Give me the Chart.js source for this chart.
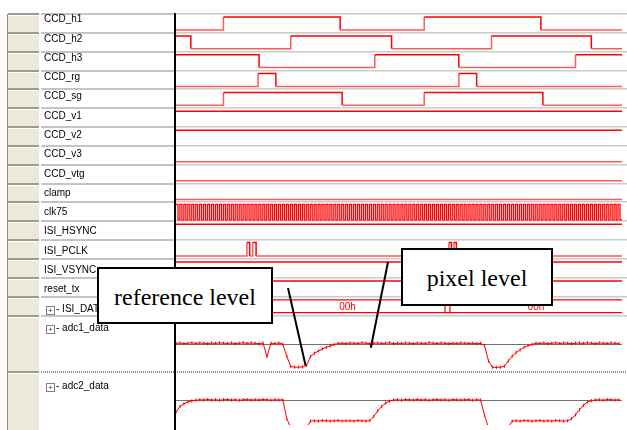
<!DOCTYPE html>
<html>
<head>
<meta charset="utf-8">
<script src="https://cdn.jsdelivr.net/npm/chart.js@4.4.0/dist/chart.umd.min.js"></script>
<style>
body { margin: 0; background: #fff; }
#wrap { position: relative; width: 627px; height: 430px; overflow: hidden; font-family: "Liberation Sans", Arial, sans-serif; }
#wave { position: absolute; left: 0; top: 0; }
.lbl { position: absolute; left: 44px; font-size: 10px; line-height: 12px; color: #000; white-space: nowrap; }
.plus { display: inline-block; width: 7px; height: 7px; border: 1px solid #7f7f7f; font-size: 8px; line-height: 7px; text-align: center; margin: 0 1px 0 1px; vertical-align: -1px; color: #333; }
.note { position: absolute; background: #fff; border: 2px solid #000; box-sizing: border-box; font-family: "Liberation Serif", "Times New Roman", serif; font-size: 24px; display: flex; align-items: center; justify-content: center; padding-top: 3px; }
</style>
</head>
<body>
<div id="wrap">
  <canvas id="wave" width="627" height="430"></canvas>
  <div id="labels"></div>
  <div class="note" style="left:97px;top:267px;width:176px;height:57px;">reference level</div>
  <div class="note" style="left:401px;top:248px;width:152px;height:58px;">pixel level</div>
</div>
<script>
// time axis in screen-ish units, 0 = left edge of wave window
var T_END = 451;

var signalNames = ['CCD_h1', 'CCD_h2', 'CCD_h3', 'CCD_rg', 'CCD_sg', 'CCD_v1', 'CCD_v2', 'CCD_v3',
  'CCD_vtg', 'clamp', 'clk75', 'ISI_HSYNC', 'ISI_PCLK', 'ISI_VSYNC', 'reset_tx', 'ISI_DATA',
  'adc1_data', 'adc2_data'];

// digital signals: [time, level] edges
var ccdH1 = [[0,0],[48,1],[166,0],[251,1],[369,0]];
var ccdH2 = [[0,1],[15,0],[116,1],[218,0],[319,1],[420,0]];
var ccdH3 = [[0,1],[84,0],[201,1],[286,0],[404,1]];
var ccdRg = [[0,0],[83,1],[101,0],[286,1],[304,0]];
var ccdSg = [[0,0],[48,1],[168,0],[251,1],[371,0]];
var ccdV1 = [[0,1]];
var ccdV2 = [[0,1]];
var ccdV3 = [[0,0]];
var ccdVtg = [[0,0]];
var clamp = [[0,0]];
var isiHsync = [[0,1]];
var isiPclk = [[0,0],[71.7,1],[74.5,0],[77.5,1],[81,0],[276,1],[278.5,0],[281,1],[283.5,0]];
var isiVsync = [[0,1]];
var resetTx = [[0,1]];

// clk75 levels, one per half period
var clk75 =
  '10101010101010101010101010101010101010101010101010' +
  '10101010101010101010101010101010101010101010101010' +
  '10101010101010101010101010101010101010101010101010' +
  '10101010101010101010101010101010101010101010101010' +
  '10101010101010101010101010';

// ISI_DATA bus: edges and values of segments
var isiDataEdges = [70, 75, 272, 277];
var isiDataSegments = [[0, 70, '00h'], [75, 272, '00h'], [277, 451, '00h']];

// adc samples (codes 0..255), one every adcStep time units
var adcStep = 4;
var adcRefCode = 127;
var adc1Data = [
  129,131,128,130,132,129,131,130,128,131,129,132,130,129,131,128,130,132,129,131,130,128,131,
  70,
  130,129,131,
  126,72,25,22,22,23,30,70,85,95,104,112,118,124,
  129,130,128,131,130,129,132,130,128,130,131,129,130,132,128,130,129,131,130,128,
  131,130,129,132,130,129,131,130,128,130,129,131,130,129,130,128,130,
  120,50,22,21,22,26,50,72,88,100,112,119,125,
  130,129,131,128,130,132,129,131,130,128,130,131,129,132,130,128,131,130,129,131,130,129
];
var adc2Data = [
  74,100,112,120,125,
  128,130,129,131,129,130,128,130,131,129,130,128,130,131,129,130,129,131,130,128,130,129,130,
  45,5,5,5,5,5,34,
  35,34,36,35,34,35,36,34,35,35,34,36,35,34,36,
  55,80,100,115,124,
  129,130,128,131,130,129,131,129,130,128,130,131,129,130,128,131,130,129,130,131,128,130,129,
  60,5,5,5,5,5,5,34,
  35,34,36,35,34,35,36,34,35,34,36,35,34,35,
  45,62,85,105,120,126,
  129,130,128,131,130,129,130
];

// callout tips (time, adc1 code)
var refTip = { t: 131, code: 30 };
var pixTip = { t: 197, code: 110 };

// ---------- layout ----------
var ROW_TOP0 = 9.3;
var ROW_H = 19.29;
var Y_MIN = -ROW_TOP0 / ROW_H;
var Y_MAX = Y_MIN + 430 / ROW_H;
var HI = 0.16, LO = 0.84;
var RED = '#ff0000', PINK = '#ff5a5a';

function digital(edges, row, hi, lo) {
  var pts = edges.map(function (e) { return { x: e[0], y: row + (e[1] ? hi : lo) }; });
  pts.push({ x: T_END, y: pts[pts.length - 1].y });
  return pts;
}

function adcPoints(codes, bottomRow) {
  return codes.map(function (c, i) { return { x: i * adcStep, y: bottomRow - c * 3 / 255 }; });
}

var clkEdges = clk75.split('').map(function (c, i) { return [i * T_END / clk75.length, +c]; });

var digitalRows = [ccdH1, ccdH2, ccdH3, ccdRg, ccdSg, ccdV1, ccdV2, ccdV3, ccdVtg, clamp,
  clkEdges, isiHsync, isiPclk, isiVsync, resetTx];

var datasets = digitalRows.map(function (edges, row) {
  var hi = HI, lo = LO;
  var isClk = row == 10;
  if (isClk) { hi = 0.1; lo = 0.92; }
  if (row == 12) { hi = 0.12; }
  return {
    label: signalNames[row],
    data: digital(edges, row, hi, lo),
    stepped: true,
    borderWidth: isClk ? 1.3 : 1.5,
    borderColor: RED,
    segment: {
      borderColor: function (ctx) { return (!isClk && (ctx.p0.parsed.y % 1) > 0.5) ? PINK : RED; }
    }
  };
});

// bus lines
var busTop = 15 + 0.17, busBot = 15 + 0.85;
var busTrans = [];
isiDataEdges.forEach(function (t) {
  busTrans.push({ x: t, y: busTop }, { x: t, y: busBot }, { x: t + 0.01, y: null });
});
datasets.push({ label: 'ISI_DATA', data: [{ x: 0, y: busTop }, { x: T_END, y: busTop }], borderColor: RED, borderWidth: 1.2 });
datasets.push({ label: 'ISI_DATA', data: [{ x: 0, y: busBot }, { x: T_END, y: busBot }], borderColor: RED, borderWidth: 1.2 });
datasets.push({ label: 'ISI_DATA', data: busTrans, borderColor: RED, borderWidth: 1.2, spanGaps: false });

datasets.push({
  label: 'adc1_data', data: adcPoints(adc1Data, 19), borderColor: RED, borderWidth: 1,
  pointStyle: 'line', pointRotation: 90, pointRadius: 1.6, pointBorderWidth: 1, pointBorderColor: RED
});
datasets.push({
  label: 'adc2_data', data: adcPoints(adc2Data, 22), borderColor: RED, borderWidth: 1,
  pointStyle: 'line', pointRotation: 90, pointRadius: 1.6, pointBorderWidth: 1, pointBorderColor: RED
});

var rowBounds = [0,1,2,3,4,5,6,7,8,9,10,11,12,13,14,15,16,19];

var bgPlugin = {
  id: 'bg',
  beforeDraw: function (chart) {
    var ctx = chart.ctx, ys = chart.scales.y, xs = chart.scales.x;
    ctx.save();
    ctx.fillStyle = '#fff';
    ctx.fillRect(0, 0, 627, 430);
    var top = ys.getPixelForValue(0);
    ctx.fillStyle = '#ece9d8';
    ctx.fillRect(8, top, 31, 430);
    ctx.fillStyle = '#8e8c80';
    ctx.fillRect(7, top, 1, 430);
    rowBounds.forEach(function (b) {
      var py = Math.round(ys.getPixelForValue(b));
      ctx.fillStyle = '#9d9b8f';
      ctx.fillRect(8, py - 1, 31, 2);
      ctx.fillStyle = '#fff';
      ctx.fillRect(8, py + 1, 31, 1);
      if (b == 19) {
        ctx.strokeStyle = '#8a8a8a';
        ctx.lineWidth = 2;
        ctx.setLineDash([1, 1]);
        ctx.beginPath();
        ctx.moveTo(41, py);
        ctx.lineTo(627, py);
        ctx.stroke();
        ctx.setLineDash([]);
      } else {
        ctx.fillStyle = '#c4c4c4';
        ctx.fillRect(41, py - 1, 133, 2);
        ctx.fillStyle = '#cbcbcb';
        ctx.fillRect(176, py - 1, 451, 1.5);
      }
    });
    // reference lines of the adc rows
    ctx.fillStyle = '#707070';
    [19 - adcRefCode * 3 / 255, 22 - adcRefCode * 3 / 255].forEach(function (v) {
      var py = Math.round(ys.getPixelForValue(v));
      ctx.fillRect(xs.left, py, xs.right - xs.left, 1);
    });
    ctx.fillStyle = '#000';
    ctx.fillRect(174, top - 1, 2, 430);
    ctx.restore();
  },
  afterDatasetsDraw: function (chart) {
    var ctx = chart.ctx, ys = chart.scales.y, xs = chart.scales.x;
    ctx.save();
    ctx.fillStyle = RED;
    ctx.font = '10px "Liberation Sans", Arial, sans-serif';
    ctx.textAlign = 'center';
    ctx.textBaseline = 'middle';
    isiDataSegments.forEach(function (s) {
      ctx.fillText(s[2], xs.getPixelForValue((s[0] + s[1]) / 2), ys.getPixelForValue(15.55));
    });
    // callout pointers
    ctx.strokeStyle = '#000';
    ctx.lineWidth = 2;
    [[288, 288, refTip], [388, 262, pixTip]].forEach(function (p) {
      ctx.beginPath();
      ctx.moveTo(p[0], p[1]);
      ctx.lineTo(xs.getPixelForValue(p[2].t), ys.getPixelForValue(19 - p[2].code * 3 / 255));
      ctx.stroke();
    });
    ctx.restore();
  }
};

new Chart(document.getElementById('wave'), {
  type: 'line',
  data: { datasets: datasets },
  options: {
    responsive: false,
    animation: false,
    devicePixelRatio: 1,
    events: [],
    layout: { padding: { left: 176, right: 0, top: 0, bottom: 0 } },
    elements: { point: { radius: 0 }, line: { tension: 0 } },
    scales: {
      x: { type: 'linear', min: 0, max: T_END, display: false },
      y: { type: 'linear', min: Y_MIN, max: Y_MAX, reverse: true, display: false }
    },
    plugins: { legend: { display: false }, tooltip: { enabled: false } }
  },
  plugins: [bgPlugin]
});

// signal names
var labels = document.getElementById('labels');
signalNames.forEach(function (name, i) {
  var row = i <= 16 ? i : 19;
  var div = document.createElement('div');
  div.className = 'lbl';
  div.style.top = (ROW_TOP0 + row * ROW_H + 4) + 'px';
  if (i >= 15) {
    div.innerHTML = '<span class="plus">+</span>- ' + name;
    div.style.left = '45px';
  } else {
    div.textContent = name;
  }
  labels.appendChild(div);
});
</script>
</body>
</html>
